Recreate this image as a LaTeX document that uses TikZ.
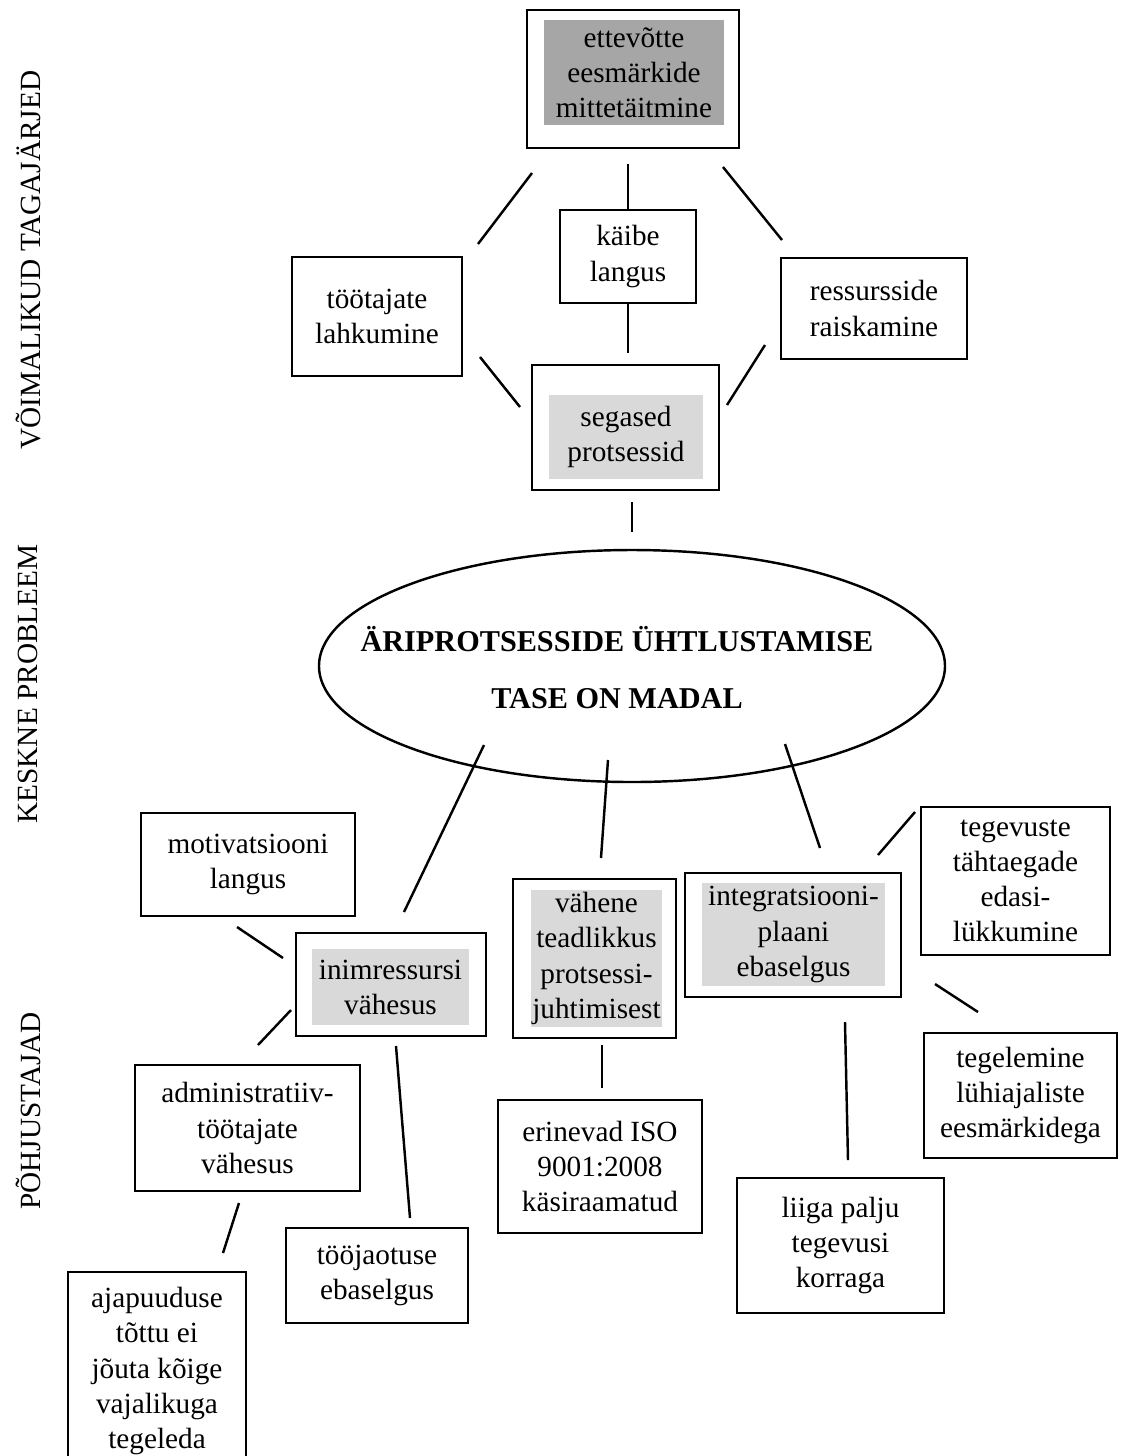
\documentclass[tikz,border=0pt]{standalone}
\usepackage{fontspec}
\setmainfont{Liberation Serif}
\usetikzlibrary{shapes.geometric}
\definecolor{ink}{HTML}{000000}
\definecolor{darkfill}{HTML}{A6A6A6}
\definecolor{lightfill}{HTML}{D9D9D9}
\tikzset{
  size/.style 2 args={minimum width=#1*0.41pt,minimum height=#2*0.41pt},
  box/.style={draw=ink,line width=1pt,fill=white,inner sep=0pt,align=center},
  core/.style={fill=#1,inner sep=0pt,align=center},
  link/.style={draw=ink,line width=1pt}
}

\begin{document}
\begin{tikzpicture}[x=0.41pt,y=-0.41pt,font=\fontsize{12}{14.4}\selectfont]
  \useasboundingbox (0,0) rectangle (1128,1456);

  % side headings
  \foreach \y/\lab/\nm in {260/{VÕIMALIKUD TAGAJÄRJED}/tagajarjed,
                           684/{KESKNE PROBLEEM}/probleem,
                           1111/{PÕHJUSTAJAD}/pohjused}
    \node[rotate=90] (\nm) at (28,\y) {\lab};

  % consequences
  \node[box,size={212}{138}] (eesm) at (633,79) {};
  \node[core=darkfill,size={180}{105}] at (634,72.5) {ettevõtte\\eesmärkide\\mittetäitmine};
  \node[box,size={136}{93}] (kaibe) at (628,256.5) {käibe\\langus};
  \node[box,size={170}{119}] (lahk) at (377,316.5) {töötajate\\lahkumine};
  \node[box,size={186}{101}] (raisk) at (874,308.5) {ressursside\\raiskamine};
  \node[box,size={187}{125}] (segased) at (625.5,427.5) {};
  \node[core=lightfill,size={154}{84}] at (626,437) {segased\\protsessid};

  % central problem
  \node[draw=ink,line width=1pt,ellipse,inner sep=0pt,size={626}{232}] (problem) at (632,666) {};
  \node[align=center,font=\bfseries\fontsize{12.4}{23.4}\selectfont] (problemtext) at (617,668)
        {ÄRIPROTSESSIDE ÜHTLUSTAMISE\\TASE ON MADAL};

  % causes
  \node[box,size={214}{103}] (motiv) at (248,864.5) {motivatsiooni\\langus};
  \node[box,size={190}{103}] (inim) at (391,984.5) {};
  \node[core=lightfill,size={157}{76}] at (390.5,987) {inimressursi\\vähesus};
  \node[box,size={225}{126}] (admin) at (247.5,1128) {administratiiv-\\töötajate\\vähesus};
  \node[box,size={178}{198}] (aeg) at (157,1371) {ajapuuduse\\tõttu ei\\jõuta kõige\\vajalikuga\\tegeleda};
  \node[box,size={182}{95}] (jaotus) at (377,1275.5) {tööjaotuse\\ebaselgus};
  \node[box,size={163}{159}] (teadl) at (594.5,958.5) {};
  \node[core=lightfill,size={131}{137}] at (596.5,958.5) {vähene\\teadlikkus\\protsessi-\\juhtimisest};
  \node[box,size={204}{133}] (iso) at (600,1166.5) {erinevad ISO\\9001:2008\\käsiraamatud};
  \node[box,size={216}{124}] (integ) at (793,935) {};
  \node[core=lightfill,size={183}{103}] at (793.5,934.5) {integratsiooni-\\plaani\\ebaselgus};
  \node[box,size={189}{148}] (tahtaeg) at (1015.5,881) {tegevuste\\tähtaegade\\edasi-\\lükkumine};
  \node[box,size={193}{125}] (luhi) at (1020.5,1095.5) {tegelemine\\lühiajaliste\\eesmärkidega};
  \node[box,size={207}{135}] (palju) at (840.5,1245.5) {liiga palju\\tegevusi\\korraga};

  % connectors (free standing strokes between the boxes)
  \draw[link] (kaibe.north) -- ++(0,-45);
  \draw[link] (kaibe.south) -- ++(0,49);
  \foreach \nm/\a/\b in {
    lahk-eesm/{478,244}/{532,173},
    raisk-eesm/{782,240}/{723,167},
    lahk-seg/{480,357}/{520,407},
    raisk-seg/{765,345}/{727,405},
    seg-prob/{632,502}/{632,532},
    prob-inim/{484,745}/{404,912},
    prob-teadl/{608,760}/{601,858},
    prob-integ/{785,744}/{820,848},
    motiv-inim/{237,927}/{283,958},
    admin-inim/{258,1045}/{291,1010},
    inim-jaotus/{396,1046}/{410,1218},
    admin-aeg/{239,1203}/{223,1253},
    teadl-iso/{602,1045}/{602,1088},
    integ-tahtaeg/{878,855}/{915,812},
    integ-luhi/{935,984}/{978,1012},
    integ-palju/{845,1022}/{848,1160}}
  {
    \coordinate (\nm-a) at (\a);
    \coordinate (\nm-b) at (\b);
    \draw[link] (\nm-a) -- (\nm-b);
  }
\end{tikzpicture}
\end{document}
